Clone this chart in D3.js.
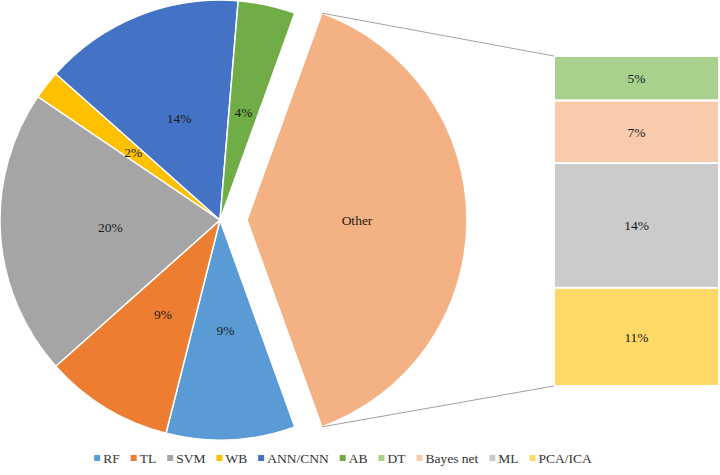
<!DOCTYPE html>
<html><head><meta charset="utf-8">
<script src="https://cdn.jsdelivr.net/npm/d3@7"></script>
<style>body{margin:0;background:#fff}svg{display:block}svg text{font-family:"Liberation Serif","Times New Roman",Times,serif;}</style>
</head><body>
<svg id="c" width="720" height="475"></svg>
<script>
const categories = ["RF","TL","SVM","WB","ANN/CNN","AB"];
const values = [9,9,20,2,14,4];
const otherCategories = ["DT","Bayes net","ML","PCA/ICA"];
const otherValues = [5,7,14,11];
const colors = ["#5b9bd5","#ed7d31","#a5a5a5","#ffc000","#4472c4","#70ad47"];
const otherColors = ["#a9d18e","#f8cbad","#cbcbcb","#ffd966"];
const otherColor = "#f4b183";

const svg = d3.select("#c");
const cx = 220, cy = 220, R = 220, explode = 27, labelR = 110;
const otherTotal = d3.sum(otherValues);
const pieData = [{name:"Other", value: otherTotal, color: otherColor, other:true}]
  .concat(categories.map((c,i)=>({name:c, value: values[i], color: colors[i]})));
const total = d3.sum(pieData, d=>d.value);
const otherAng = otherTotal/total*2*Math.PI;
const start = Math.PI/2 - otherAng/2;
const pie = d3.pie().sort(null).value(d=>d.value).startAngle(start).endAngle(start+2*Math.PI);
const arcs = pie(pieData);
const arc = d3.arc().innerRadius(0).outerRadius(R);
const lab = d3.arc().innerRadius(labelR).outerRadius(labelR);

const g = svg.append("g");
arcs.forEach(a=>{
  const mid = (a.startAngle+a.endAngle)/2;
  const off = a.data.other ? explode : 0;
  const ox = cx + off*Math.sin(mid), oy = cy - off*Math.cos(mid);
  const sg = g.append("g").attr("transform",`translate(${ox},${oy})`);
  sg.append("path").attr("d", arc(a)).attr("fill", a.data.color)
    .attr("stroke","#fff").attr("stroke-width",1.5).attr("stroke-linejoin","round");
  const p = lab.centroid(a);
  sg.append("text").attr("x",p[0]).attr("y",p[1]).attr("dy","0.35em")
    .attr("text-anchor","middle").attr("font-size",13.5).attr("fill","#1a1a1a")
    .text(a.data.other ? "Other" : a.data.value+"%");
  if (a.data.other) {
    a.corners = [
      [ox + R*Math.sin(a.startAngle), oy - R*Math.cos(a.startAngle)],
      [ox + R*Math.sin(a.endAngle), oy - R*Math.cos(a.endAngle)]
    ];
  }
});

// bar of pie
const bx0 = 554, bx1 = 719;
const y = d3.scaleLinear().domain([0, otherTotal]).range([56, 386]);
let acc = 0;
const bg = svg.append("g");
otherValues.forEach((v,i)=>{
  const y0 = y(acc), y1 = y(acc+v);
  bg.append("rect").attr("x",bx0).attr("y",y0).attr("width",bx1-bx0).attr("height",y1-y0)
    .attr("fill",otherColors[i]).attr("stroke","#fff").attr("stroke-width",2);
  bg.append("text").attr("x",(bx0+bx1)/2).attr("y",(y0+y1)/2).attr("dy","0.35em")
    .attr("text-anchor","middle").attr("font-size",13.5).attr("fill","#1a1a1a")
    .text(v+"%");
  acc += v;
});

// connector lines
const oa = arcs.find(a=>a.data.other);
svg.append("line").attr("x1",oa.corners[0][0]).attr("y1",oa.corners[0][1])
  .attr("x2",bx0).attr("y2",y(0)).attr("stroke","#a0a0a0").attr("stroke-width",1);
svg.append("line").attr("x1",oa.corners[1][0]).attr("y1",oa.corners[1][1])
  .attr("x2",bx0).attr("y2",y(otherTotal)).attr("stroke","#a0a0a0").attr("stroke-width",1);

// legend
const legItems = categories.map((c,i)=>({name:c,color:colors[i]}))
  .concat(otherCategories.map((c,i)=>({name:c,color:otherColors[i]})));
const lg = svg.append("g");
let lx = 0;
legItems.forEach(it=>{
  const ig = lg.append("g").attr("transform",`translate(${lx},0)`);
  ig.append("rect").attr("x",0).attr("y",-3).attr("width",6).attr("height",6).attr("fill",it.color);
  const t = ig.append("text").attr("x",9).attr("y",0).attr("dy","0.35em")
    .attr("font-size",13.5).attr("fill","#333").text(it.name);
  lx += 9 + t.node().getComputedTextLength() + 11;
});
const lw = lx - 11;
lg.attr("transform",`translate(${343 - lw/2},458)`);
</script>
</body></html>
